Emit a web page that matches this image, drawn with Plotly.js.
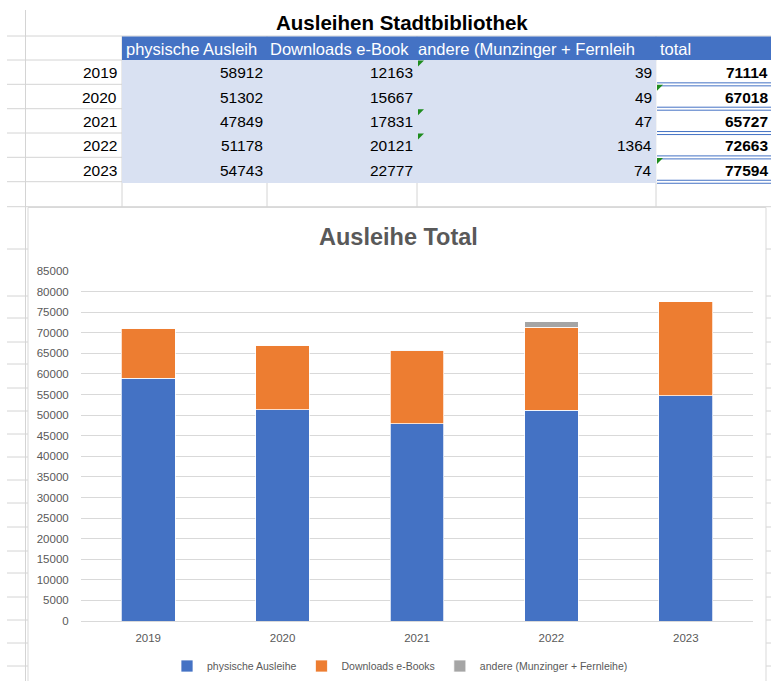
<!DOCTYPE html>
<html>
<head>
<meta charset="utf-8">
<script src="https://cdn.plot.ly/plotly-3.0.1.min.js"></script>
<style>
  html, body { margin: 0; padding: 0; background: #ffffff; }
  #chart { width: 771px; height: 681px; }
</style>
</head>
<body>
<div id="chart"></div>
<script>
// ---------- data ----------
const years = ['2019', '2020', '2021', '2022', '2023'];
const physisch = [58912, 51302, 47849, 51178, 54743];
const downloads = [12163, 15667, 17831, 20121, 22777];
const andere = [39, 49, 47, 1364, 74];
const total = [71114, 67018, 65727, 72663, 77594];
const seriesNames = ['physische Ausleihe', 'Downloads e-Books', 'andere (Munzinger + Fernleihe)'];
const headerLabels = ['physische Ausleih', 'Downloads e-Book', 'andere (Munzinger + Fernleih', 'total'];
const tableTitle = 'Ausleihen Stadtbibliothek';
const chartTitle = 'Ausleihe Total';
const flagColD = [1, 0, 1, 1, 0];
const flagColE = [0, 1, 0, 0, 1];

// ---------- helpers ----------
const W = 771, H = 681;
const px = x => x / W;
const py = y => 1 - y / H;
const FONT = 'Liberation Sans, Arial, sans-serif';
const GRID = '#D4D4D4';
const BLUE = '#4472C4', ORANGE = '#ED7D31', GRAY = '#A5A5A5';

const shapes = [];
const annotations = [];

function line(x0, y0, x1, y1, color, width) {
  shapes.push({type: 'line', xref: 'paper', yref: 'paper', layer: 'below',
    x0: px(x0), y0: py(y0), x1: px(x1), y1: py(y1),
    line: {color: color, width: width || 1}});
}
function rect(x0, y0, x1, y1, fill, lineColor) {
  shapes.push({type: 'rect', xref: 'paper', yref: 'paper', layer: 'below',
    x0: px(x0), y0: py(y0), x1: px(x1), y1: py(y1),
    fillcolor: fill, line: {color: lineColor || 'rgba(0,0,0,0)', width: lineColor ? 1 : 0}});
}
function text(t, x, y, anchor, size, color, bold) {
  annotations.push({xref: 'paper', yref: 'paper', x: px(x), y: py(y),
    xanchor: anchor, yanchor: 'middle', showarrow: false,
    text: bold ? '<b>' + t + '</b>' : t,
    font: {family: FONT, size: size, color: color}});
}
function tri(x, y) {
  const s = 6;
  shapes.push({type: 'path', xref: 'paper', yref: 'paper', layer: 'below',
    path: 'M' + px(x) + ',' + py(y) + ' L' + px(x + s) + ',' + py(y) + ' L' + px(x) + ',' + py(y + s) + ' Z',
    fillcolor: '#1E8C1E', line: {width: 0}});
}

// ---------- spreadsheet grid ----------
const rowTop = 60, rowH = 24.35;
const sheetRows = [36, 60, 84.3, 108.7, 133, 157.3, 181.7, 206.7,
  249, 296, 318, 342, 364, 388, 411, 434, 457, 480, 503, 527, 551, 573, 597, 620, 643, 666];
sheetRows.forEach(y => line(7, y, 771, y, GRID, 1));
line(25.5, 10, 25.5, 681, GRID, 1);
[122, 267, 417, 656].forEach(x => line(x, 36, x, 207, GRID, 1));

// header and fills
rect(122, 36.5, 771, 60, BLUE);
rect(122, 60, 656, 183, '#D9E1F2');
rect(656.5, 60, 771, 183, '#FFFFFF');

// double bottom borders in total column
years.forEach((yr, i) => {
  const yb = rowTop + rowH * (i + 1);
  line(657, yb - 1.5, 771, yb - 1.5, BLUE, 1);
  line(657, yb + 1.5, 771, yb + 1.5, BLUE, 1);
});

// error-indicator triangles
years.forEach((yr, i) => {
  const yt = rowTop + rowH * i + 0.5;
  if (flagColD[i]) tri(418, yt);
  if (flagColE[i]) tri(657, yt);
});

// table text
text(tableTitle, 402, 22, 'center', 20.5, '#000000', true);
const headerX = [124, 268, 416, 658];
headerLabels.forEach((h, j) => text(h, headerX[j], 48.5, 'left', 16.5, '#FFFFFF', false));
years.forEach((yr, i) => {
  const yc = rowTop + rowH * i + rowH / 2 + 0.5;
  text(yr, 119, yc, 'right', 15.5, '#000000', false);
  text(String(physisch[i]), 265, yc, 'right', 15.5, '#000000', false);
  text(String(downloads[i]), 415, yc, 'right', 15.5, '#000000', false);
  text(String(andere[i]), 654, yc, 'right', 15.5, '#000000', false);
  text(String(total[i]), 770, yc, 'right', 15.5, '#000000', true);
});

// chart area
rect(28, 207.5, 766, 695, '#FFFFFF', '#D9D9D9');
text(chartTitle, 398, 237, 'center', 23.5, '#595959', true);

// ---------- chart ----------
const barLine = {color: '#FFFFFF', width: 0.75};
const traces = [
  {type: 'bar', name: seriesNames[0], x: years, y: physisch, marker: {color: BLUE, line: barLine}},
  {type: 'bar', name: seriesNames[1], x: years, y: downloads, marker: {color: ORANGE, line: barLine}},
  {type: 'bar', name: seriesNames[2], x: years, y: andere, marker: {color: GRAY, line: barLine}}
];

const layout = {
  width: W, height: H,
  margin: {l: 0, r: 0, t: 0, b: 0},
  paper_bgcolor: '#FFFFFF',
  plot_bgcolor: 'rgba(0,0,0,0)',
  barmode: 'stack',
  bargap: 0.6,
  font: {family: FONT, color: '#595959'},
  xaxis: {
    domain: [px(81), px(753)],
    type: 'category',
    showgrid: false, zeroline: false, showline: false,
    ticks: 'outside', ticklen: 6, tickcolor: 'rgba(0,0,0,0)',
    tickfont: {family: FONT, size: 11.5, color: '#595959'}
  },
  yaxis: {
    domain: [py(621), py(271)],
    range: [0, 85000],
    dtick: 5000, tick0: 0,
    tickformat: 'd',
    showgrid: true, gridcolor: '#D9D9D9', gridwidth: 1,
    zeroline: true, zerolinecolor: '#D9D9D9', zerolinewidth: 1,
    showline: false,
    ticks: 'outside', ticklen: 9, tickcolor: 'rgba(0,0,0,0)',
    tickfont: {family: FONT, size: 11.5, color: '#595959'}
  },
  showlegend: true,
  legend: {
    orientation: 'h', x: px(400), xanchor: 'center', y: py(666), yanchor: 'middle',
    font: {family: FONT, size: 10.5, color: '#595959'},
    bgcolor: 'rgba(0,0,0,0)', traceorder: 'normal', itemwidth: 30
  },
  shapes: shapes,
  annotations: annotations
};

Plotly.newPlot('chart', traces, layout, {displayModeBar: false, staticPlot: true});
</script>
</body>
</html>
